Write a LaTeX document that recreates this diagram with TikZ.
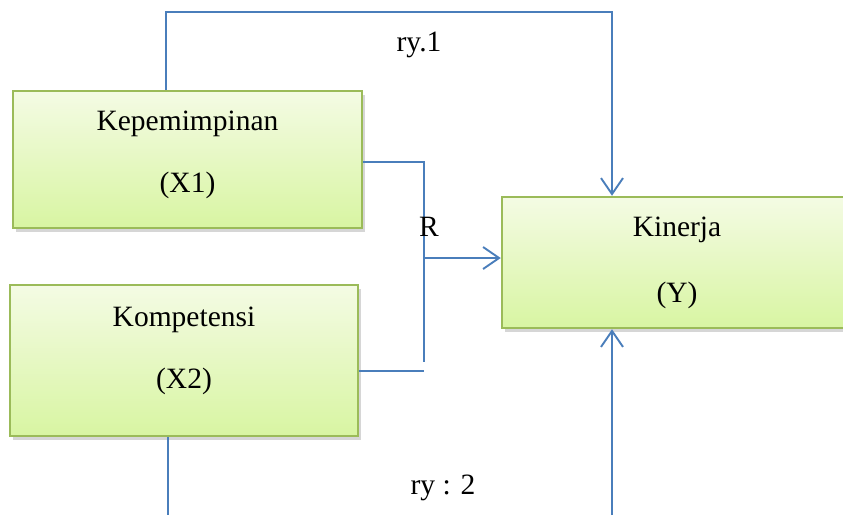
\documentclass[tikz,border=0pt]{standalone}
\usepackage{fontspec}
\setmainfont{Liberation Serif}
\usetikzlibrary{arrows.meta,shadows}
\definecolor{linkblue}{HTML}{4A7EBB}
\definecolor{boxedge}{HTML}{9BBB59}
\definecolor{boxtop}{HTML}{F4FBE4}
\definecolor{boxbottom}{HTML}{D8F5A2}
\newcommand{\twolines}[3]{\begin{tabular}[t]{@{}c@{}}#1\\[#3](#2)\end{tabular}}
\tikzset{
  varbox/.style={draw=boxedge, line width=2.5pt, top color=boxtop, bottom color=boxbottom,
    inner sep=0pt, font=\fontsize{29.5}{34}\selectfont,
    drop shadow={shadow xshift=3pt, shadow yshift=-4pt, opacity=0.16, fill=black}},
  link/.style={draw=linkblue, line width=1.9pt},
  linktip/.style={-{Straight Barb[length=16pt,width=22pt]}},
  lbl/.style={font=\fontsize{29.5}{34}\selectfont, inner sep=0pt}
}
\begin{document}
\begin{tikzpicture}[x=1pt,y=-1pt]
  \useasboundingbox (0,0) rectangle (843,515);
  \fill[white] (0,0) rectangle (843,515);

  % variable boxes
  \node[varbox, minimum width=349pt, text height=39pt, text depth=98pt] (x1) at (187.5,159.5)
    {\twolines{Kepemimpinan}{X1}{28pt}};
  \node[varbox, minimum width=348pt, text height=41pt, text depth=110pt] (x2) at (184,360.5)
    {\twolines{Kompetensi}{X2}{28pt}};
  \node[varbox, minimum width=350pt, text height=39pt, text depth=92pt] (y) at (677,262.5)
    {\twolines{Kinerja}{Y}{32pt}};

  % partial path X1 -> Y (ry.1)
  \coordinate (t1) at (166,12);
  \coordinate (t2) at (612,12);
  \draw[link, linktip] (x1.north -| t1) -- (t1) -- (t2) -- (y.north -| t2);

  % joint path X1, X2 -> Y (R)
  \coordinate (ja) at (424,162);
  \coordinate (jb) at (424,362);
  \coordinate (jc) at (424,371);
  \coordinate (jm) at (424,258);
  \draw[link] (x1.east |- ja) -- (ja) -- (jb);
  \draw[link] (x2.east |- jc) -- (jc);
  \draw[link, linktip] (jm) -- (y.west |- jm);

  % partial path X2 -> Y (ry : 2)
  \coordinate (b1) at (168,515);
  \coordinate (b2) at (612,515);
  \draw[link] (x2.south -| b1) -- (b1);
  \draw[link, linktip] (b2) -- (y.south -| b2);

  % path labels
  \node[lbl] (ry1) at (419,45) {ry.1};
  \node[lbl] (r) at (429,227) {R};
  \node[lbl] (ry2) at (443,488) {ry : 2};
\end{tikzpicture}
\end{document}
